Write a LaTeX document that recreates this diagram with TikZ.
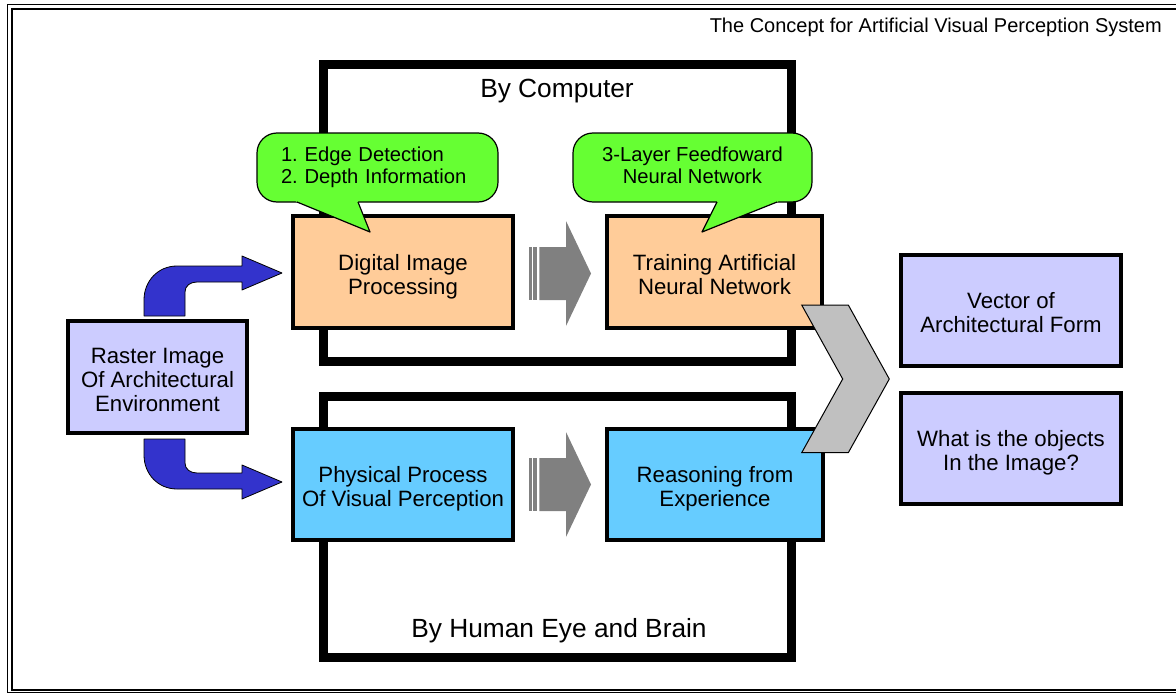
\documentclass[tikz,border=0pt]{standalone}
\usepackage{fontspec}
\setmainfont{Liberation Sans}
\usetikzlibrary{calc}
\definecolor{boxorange}{HTML}{FFCC99}
\definecolor{boxblue}{HTML}{66CCFF}
\definecolor{boxlilac}{HTML}{CCCCFF}
\definecolor{notegreen}{HTML}{66FF33}
\definecolor{flowgray}{HTML}{808080}
\definecolor{chevgray}{HTML}{C0C0C0}
\definecolor{bendblue}{HTML}{3333CC}
\frenchspacing
\begin{document}
\begin{tikzpicture}[x=1pt,y=-1pt,
  box/.style={draw=black, line width=4pt, inner sep=0pt, align=center,
    text height=48pt, text depth=4pt,
    font=\fontsize{22.2}{24}\selectfont},
  threeline/.style={text height=72pt, text depth=4pt},
  frame/.style={draw=black, line width=9pt, inner sep=0pt},
  note/.style={draw=black, fill=notegreen, line width=1.2pt, rounded corners=20pt,
    inner sep=0pt, minimum height=69pt, text height=35.6pt, text depth=4pt,
    font=\fontsize{20.2}{22}\selectfont},
  framelabel/.style={font=\fontsize{26.3}{28}\selectfont, inner sep=0pt, anchor=base},
  blockarrow/.pic={
    % two thin stripes, the shaft, then the head
    \fill[flowgray] (-31,-26.5) rectangle (-28.3,26.5);
    \fill[flowgray] (-26.7,-26.5) rectangle (-23.3,26.5);
    \fill[flowgray] (-20.7,-26.5) -- (6,-26.5) -- (6,-52.5) -- (31,0)
      -- (6,52.5) -- (6,26.5) -- (-20.7,26.5) -- cycle;
  }
]
\useasboundingbox (0,0) rectangle (1176,693);

% double page border
\draw[line width=1.5pt] (1180,4.7) -- (7.5,4.7) -- (7.5,692.3) -- (1180,692.3);
\draw[line width=2pt] (1180,9.3) -- (12,9.3) -- (12,689.5) -- (1180,689.5);

% title
\node[anchor=base east, inner sep=0pt, font=\fontsize{20}{22}\selectfont] (title)
  at (1162,33) {The Concept for Artificial Visual Perception System};

% the two enclosing frames
\node[frame, minimum width=468pt, minimum height=297pt] (compframe) at (557.5,213) {};
\node[frame, minimum width=468pt, minimum height=261.5pt] (humanframe) at (557.5,526.75) {};
\node[framelabel] (complabel) at (557,97.5) {By Computer};
\node[framelabel] (humanlabel) at (559,637.5) {By Human Eye and Brain};

% process boxes
\node[box, fill=boxorange, minimum width=220pt, minimum height=112pt] (dip) at (403,272) {Digital Image\\Processing};
\node[box, fill=boxorange, minimum width=215pt, minimum height=112pt] (tann) at (714.5,272) {Training Artificial\\Neural Network};
\node[box, fill=boxblue, minimum width=220pt, minimum height=111pt] (ppv) at (403,484.5) {Physical Process\\Of Visual Perception};
\node[box, fill=boxblue, minimum width=216pt, minimum height=111pt] (rfe) at (715,484.5) {Reasoning from\\Experience};
\node[box, threeline, fill=boxlilac, minimum width=179pt, minimum height=112pt] (raster) at (157.5,377) {Raster Image\\Of Architectural\\Environment};
\node[box, fill=boxlilac, minimum width=220pt, minimum height=111pt] (vaf) at (1011,310.5) {Vector of\\Architectural Form};
\node[box, fill=boxlilac, minimum width=220pt, minimum height=111pt] (wobj) at (1011,448.5) {What is the objects\\In the Image?};

% speech-bubble notes
\node[note, minimum width=241pt, align=left, text width=193pt,
  text height=15pt, text depth=27.4pt] (note1) at (377.5,167.5)
  {1. Edge Detection\\2. Depth Information};
\fill[notegreen] (294,200) -- (297,202) -- (370,232) -- (358,202) -- (358.5,200) -- cycle;
\draw[line width=1.2pt, line join=round] (297,202) -- (370,232) -- (358,202);

\node[note, minimum width=239pt, align=center] (note2) at (692.5,167.5)
  {3-Layer Feedfoward\\Neural Network};
\fill[notegreen] (780,200) -- (777,202) -- (702,232) -- (717,202) -- (716.5,200) -- cycle;
\draw[line width=1.2pt, line join=round] (777,202) -- (702,232) -- (717,202);

% bent arrows from the raster image to both routes
\filldraw[fill=bendblue, draw=black, line width=0.8pt, line join=round]
  (144,316) -- (144,300) .. controls (144,281) and (158,266) .. (177,266)
  -- (242,266) -- (242,256) -- (282,273) -- (242,290) -- (242,282)
  -- (197,282) .. controls (190,282) and (185,286) .. (185,292) -- (185,316) -- cycle;
\filldraw[fill=bendblue, draw=black, line width=0.8pt, line join=round]
  (144,439) -- (144,455) .. controls (144,474) and (158,489) .. (177,489)
  -- (242,489) -- (242,499) -- (282,482) -- (242,465) -- (242,473)
  -- (197,473) .. controls (190,473) and (185,469) .. (185,463) -- (185,439) -- cycle;

% striped block arrows between the stages
\pic at ($(dip.east)!0.5!(tann.west)+(0,1.5)$) {blockarrow};
\pic at ($(ppv.east)!0.5!(rfe.west)$) {blockarrow};

% chevron gathering both routes into the results
\filldraw[fill=chevgray, draw=black, line width=1pt, line join=miter]
  (801.7,305) -- (848.3,305) -- (889.3,379) -- (848.3,452.7) -- (801.7,452.7)
  -- (842.7,379) -- cycle;
\end{tikzpicture}
\end{document}
